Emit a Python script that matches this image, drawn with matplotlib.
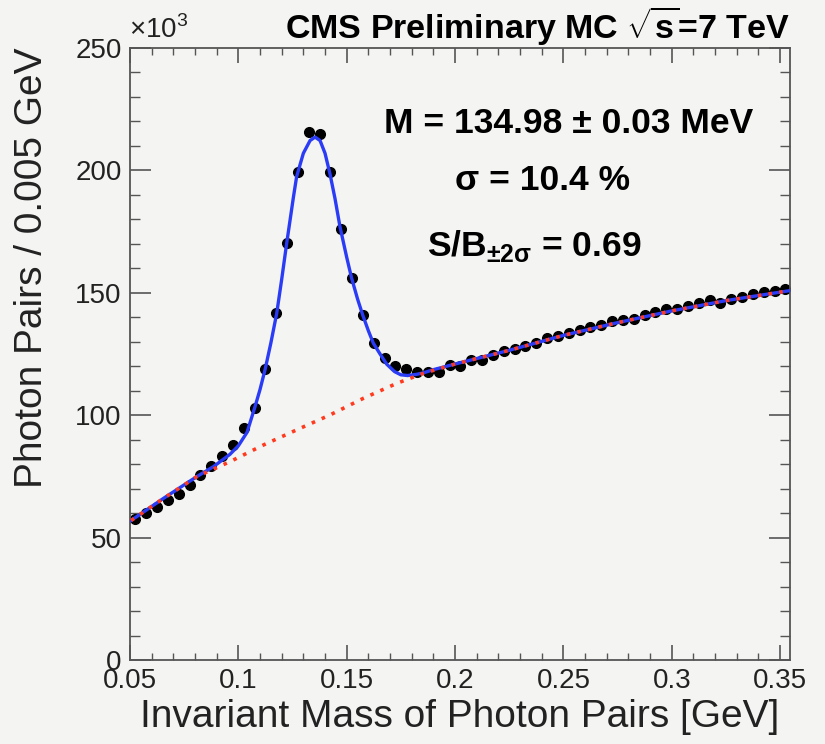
import matplotlib
matplotlib.use("Agg")
import matplotlib.pyplot as plt
from matplotlib.ticker import MultipleLocator

plt.rcParams["font.family"] = ["Liberation Sans", "DejaVu Sans"]
plt.rcParams["mathtext.fontset"] = "custom"
plt.rcParams["mathtext.rm"] = "Liberation Sans"
plt.rcParams["mathtext.bf"] = "Liberation Sans:bold"

# photon pair mass bins (GeV), 0.005 GeV wide
mass = [0.0525, 0.0575, 0.0625, 0.0675, 0.0725, 0.0775, 0.0825, 0.0875, 0.0925, 0.0975,
        0.1025, 0.1075, 0.1125, 0.1175, 0.1225, 0.1275, 0.1325, 0.1375, 0.1425, 0.1475,
        0.1525, 0.1575, 0.1625, 0.1675, 0.1725, 0.1775, 0.1825, 0.1875, 0.1925, 0.1975,
        0.2025, 0.2075, 0.2125, 0.2175, 0.2225, 0.2275, 0.2325, 0.2375, 0.2425, 0.2475,
        0.2525, 0.2575, 0.2625, 0.2675, 0.2725, 0.2775, 0.2825, 0.2875, 0.2925, 0.2975,
        0.3025, 0.3075, 0.3125, 0.3175, 0.3225, 0.3275, 0.3325, 0.3375, 0.3425, 0.3475,
        0.3525]
# photon pairs per bin (x10^3)
pairs = [57.5, 59.9, 62.5, 65.4, 67.8, 71.6, 75.4, 79.4, 83.2, 87.7,
         94.8, 103.1, 118.7, 141.6, 170.5, 199.2, 215.6, 214.7, 199.2, 176.1,
         156.2, 140.9, 129.4, 123.5, 120.1, 118.7, 117.6, 117.6, 117.6, 120.5,
         120.1, 122.5, 122.5, 124.5, 126.4, 127.0, 128.1, 129.6, 131.5, 132.4,
         133.5, 134.8, 136.0, 136.7, 138.4, 138.9, 139.4, 140.8, 142.3, 143.3,
         143.3, 144.6, 145.7, 147.1, 146.0, 147.6, 148.4, 149.5, 150.3, 150.6,
         151.4]

# signal + background fit
fit_x = [0.0505, 0.0654, 0.0808, 0.0885, 0.0961, 0.1000, 0.1040, 0.1077, 0.1100, 0.1123,
         0.1150, 0.1177, 0.1200, 0.1223, 0.1254, 0.1269, 0.1300, 0.1331, 0.1354, 0.1377,
         0.1400, 0.1423, 0.1446, 0.1469, 0.1500, 0.1523, 0.1550, 0.1574, 0.1600, 0.1623,
         0.1654, 0.1685, 0.1721, 0.1750, 0.1781, 0.1823, 0.1854, 0.1900, 0.2000, 0.2250,
         0.2500, 0.2750, 0.3000, 0.3250, 0.3546]
fit_y = [57.0, 66.0, 74.9, 79.0, 84.0, 87.5, 93.0, 103.5, 110.5, 118.5,
         129.5, 141.6, 155.5, 170.2, 189.0, 197.5, 207.0, 212.2, 213.6, 212.2,
         207.0, 198.5, 188.5, 177.0, 164.5, 155.9, 147.5, 140.9, 134.5, 129.4,
         125.0, 120.8, 117.8, 116.5, 116.2, 116.7, 117.3, 118.6, 120.9, 126.5,
         132.6, 137.8, 142.6, 146.8, 150.9]

# background only
bkg_x = [0.0505, 0.0654, 0.0808, 0.0961, 0.1115, 0.1269, 0.1423, 0.1577, 0.1731, 0.1854,
         0.2000, 0.2250, 0.2500, 0.2750, 0.3000, 0.3250, 0.3546]
bkg_y = [57.0, 66.0, 74.9, 81.0, 87.8, 94.0, 100.1, 106.9, 113.0, 117.1,
         120.9, 126.5, 132.6, 137.8, 142.6, 146.8, 150.9]

bg = "#f4f4f2"
fig = plt.figure(figsize=(8.25, 7.44), dpi=100, facecolor=bg)
ax = fig.add_axes([0.1576, 0.1129, 0.80, 0.8226], facecolor=bg)

ax.plot(mass, pairs, "o", color="black", markersize=7, zorder=2)
ax.plot(fit_x, fit_y, color="#2a3cf5", linewidth=2.4, zorder=3)
ax.plot(bkg_x, bkg_y, color="#ff3b1f", linewidth=2.6, linestyle=(0, (1, 2)), zorder=4)

ax.set_xlim(0.05, 0.3546)
ax.set_ylim(0, 250)
ax.xaxis.set_minor_locator(MultipleLocator(0.01))
ax.yaxis.set_major_locator(MultipleLocator(50))
ax.yaxis.set_minor_locator(MultipleLocator(10))
ax.set_xticks([0.05, 0.1, 0.15, 0.2, 0.25, 0.3, 0.35])
ax.set_xticklabels(["0.05", "0.1", "0.15", "0.2", "0.25", "0.3", "0.35"])

for s in ax.spines.values():
    s.set_color("#555555")
    s.set_linewidth(1.3)
ax.tick_params(which="both", direction="in", top=True, right=True, color="#555555",
               labelsize=20, labelcolor="#222222")
ax.tick_params(axis="x", which="major", length=11, width=1.2, pad=6)
ax.tick_params(axis="x", which="minor", length=5, width=1.0)
ax.tick_params(axis="y", which="major", length=15, width=1.2, pad=6)
ax.tick_params(axis="y", which="minor", length=7, width=1.0)

ax.set_xlabel("Invariant Mass of Photon Pairs [GeV]", fontsize=28, color="#222222", labelpad=3)
ax.set_ylabel("Photon Pairs / 0.005 GeV", fontsize=28, color="#222222", loc="top", labelpad=18)

fig.text(0.156, 0.941, r"$\times$10$^3$", fontsize=20, color="#222222", ha="left", va="bottom")
fig.text(0.958, 0.948, r"CMS Preliminary MC $\mathbf{\sqrt{s}}$=7 TeV", fontsize=24.5,
         fontweight="bold", ha="right", va="baseline")

ax.text(0.665, 0.876, "M = 134.98 \u00b1 0.03 MeV", transform=ax.transAxes, fontsize=25.5,
        fontweight="bold", ha="center", va="center")
ax.text(0.625, 0.784, "\u03c3 = 10.4 %", transform=ax.transAxes, fontsize=25.5,
        fontweight="bold", ha="center", va="center")
ax.text(0.612, 0.676, r"S/B$_{\mathbf{\pm 2\sigma}}$ = 0.69", transform=ax.transAxes, fontsize=25.5,
        fontweight="bold", ha="center", va="center")

fig.savefig("out.png", dpi=100, facecolor=bg)
